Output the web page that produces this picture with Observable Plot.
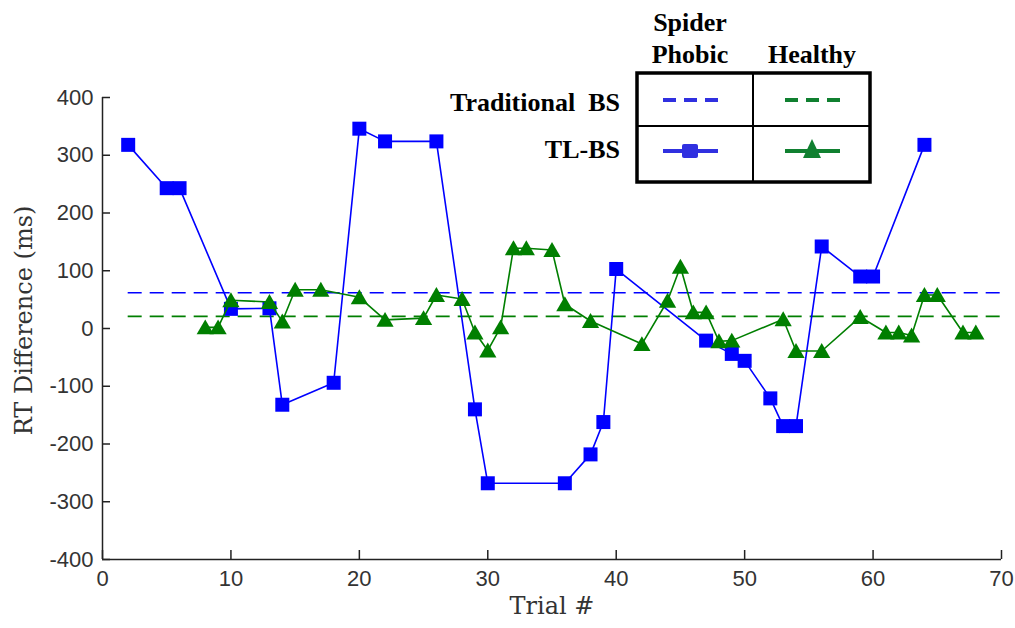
<!DOCTYPE html>
<html>
<head>
<meta charset="utf-8">
<script src="https://cdn.jsdelivr.net/npm/d3@7"></script>
<script src="https://cdn.jsdelivr.net/npm/@observablehq/plot@0.6"></script>
<style>
  html, body { margin: 0; padding: 0; background: #fff; }
  #wrap { position: relative; width: 1015px; height: 628px; }
  #legend { position: absolute; left: 0; top: 0; pointer-events: none; }
</style>
</head>
<body>
<div id="wrap"></div>
<script>
// ---- data ----
const spiderTrials = [2,5,6,10,13,14,18,20,22,26,29,30,36,38,39,40,47,49,50,52,53,54,56,59,60,64];
const spiderRT     = [318,243,243,34,35,-132,-94,346,324,324,-140,-268,-268,-218,-162,103,-21,-44,-56,-121,-169,-169,142,90,90,318];
const healthyTrials = [8,9,10,13,14,15,17,20,22,25,26,28,29,30,31,32,33,35,36,38,42,44,45,46,47,48,49,53,54,56,59,61,62,63,64,65,67,68];
const healthyRT     = [2,2,49,46,12,67,67,54,15,18,58,51,-7,-38,2,139,139,136,42,13,-27,48,107,28,28,-22,-21,16,-39,-39,20,-7,-7,-12,58,58,-7,-7];
const baselineGroups = ["Spider Phobic", "Healthy"];
const baselineRT = [62, 21];
const baselineStart = [2, 2];
const baselineEnd = [70, 70];
const xTicks = [0,10,20,30,40,50,60,70];
const yTicks = [-400,-300,-200,-100,0,100,200,300,400];
const xLabel = "Trial #";
const yLabel = "RT Difference (ms)";

const BLUE = "#0000ff";
const GREEN = "#007f00";

const spider = spiderTrials.map((t, i) => ({trial: t, rt: spiderRT[i]}));
const healthy = healthyTrials.map((t, i) => ({trial: t, rt: healthyRT[i]}));
const baselines = baselineGroups.map((g, i) => ({group: g, rt: baselineRT[i], x1: baselineStart[i], x2: baselineEnd[i]}));

const chart = Plot.plot({
  width: 1015,
  height: 628,
  marginLeft: 102,
  marginRight: 14,
  marginTop: 97,
  marginBottom: 69,
  x: {domain: [0, 70]},
  y: {domain: [-400, 400]},
  style: {fontFamily: "'Liberation Sans', Arial, sans-serif", fontSize: "22px", color: "#333", background: "#fff"},
  marks: [
    Plot.ruleY(baselines, {y: "rt", x1: "x1", x2: "x2", stroke: d => d.group === "Healthy" ? GREEN : BLUE, strokeWidth: 1.6, strokeDasharray: "14,8"}),
    Plot.line(spider, {x: "trial", y: "rt", stroke: BLUE, strokeWidth: 1.6}),
    Plot.dot(spider, {x: "trial", y: "rt", symbol: "square", r: 7.9, fill: BLUE, stroke: null}),
    Plot.line(healthy, {x: "trial", y: "rt", stroke: GREEN, strokeWidth: 1.6}),
    Plot.dot(healthy, {x: "trial", y: "rt", symbol: "triangle", r: 6.4, fill: GREEN, stroke: null, dy: 2}),
    Plot.ruleX([0], {stroke: "#222", strokeWidth: 1.5}),
    Plot.ruleY([-400], {stroke: "#222", strokeWidth: 1.5}),
    Plot.axisY({ticks: yTicks, tickFormat: d => String(d), tickSize: -8, tickPadding: 17, label: null, stroke: "#222", strokeWidth: 1.5, fill: "#333"}),
    Plot.axisX({ticks: xTicks, tickFormat: d => String(d), tickSize: -9, tickPadding: 20, label: null, stroke: "#222", strokeWidth: 1.5, fill: "#333"}),
    Plot.text([xLabel], {frameAnchor: "bottom", textAnchor: "middle", dy: 54, fontFamily: "'DejaVu Serif', serif", fontSize: 24, fill: "#333"}),
    Plot.text([yLabel], {frameAnchor: "left", textAnchor: "middle", dx: -78, dy: -8, rotate: -90, fontFamily: "'DejaVu Serif', serif", fontSize: 24, fill: "#333"})
  ]
});
document.getElementById("wrap").appendChild(chart);

// ---- legend table overlay ----
const LB = "#3030e0", LG = "#108030";
const lg = d3.select("#wrap").append("svg")
  .attr("id", "legend").attr("width", 1015).attr("height", 628);
const tf = "'Liberation Serif', 'Times New Roman', serif";
function txt(s, x, y, anchor) {
  lg.append("text").text(s).attr("x", x).attr("y", y)
    .attr("text-anchor", anchor).attr("font-family", tf).attr("font-weight", "bold")
    .attr("font-size", 26).attr("fill", "#000").style("white-space", "pre");
}
txt("Spider", 690, 31, "middle");
txt("Phobic", 690, 63, "middle");
txt("Healthy", 812, 63, "middle");
txt("Traditional  BS", 620, 111, "end");
txt("TL-BS", 620, 158, "end");
lg.append("rect").attr("x", 637).attr("y", 73).attr("width", 233).attr("height", 109)
  .attr("fill", "#fff").attr("stroke", "#000").attr("stroke-width", 3.5);
lg.append("line").attr("x1", 753).attr("x2", 753).attr("y1", 73).attr("y2", 182).attr("stroke", "#000").attr("stroke-width", 2);
lg.append("line").attr("x1", 637).attr("x2", 870).attr("y1", 126).attr("y2", 126).attr("stroke", "#000").attr("stroke-width", 2);
lg.append("line").attr("x1", 663).attr("x2", 718).attr("y1", 100).attr("y2", 100).attr("stroke", LB).attr("stroke-width", 4).attr("stroke-dasharray", "13,8");
lg.append("line").attr("x1", 785).attr("x2", 840).attr("y1", 100).attr("y2", 100).attr("stroke", LG).attr("stroke-width", 4).attr("stroke-dasharray", "13,8");
lg.append("line").attr("x1", 663).attr("x2", 718).attr("y1", 151).attr("y2", 151).attr("stroke", LB).attr("stroke-width", 4);
lg.append("rect").attr("x", 682).attr("y", 144).attr("width", 16).attr("height", 14).attr("rx", 2).attr("fill", LB);
lg.append("line").attr("x1", 785).attr("x2", 840).attr("y1", 151).attr("y2", 151).attr("stroke", LG).attr("stroke-width", 4);
lg.append("path").attr("d", "M812,139 L821,158 L803,158 Z").attr("fill", LG);
</script>
</body>
</html>
